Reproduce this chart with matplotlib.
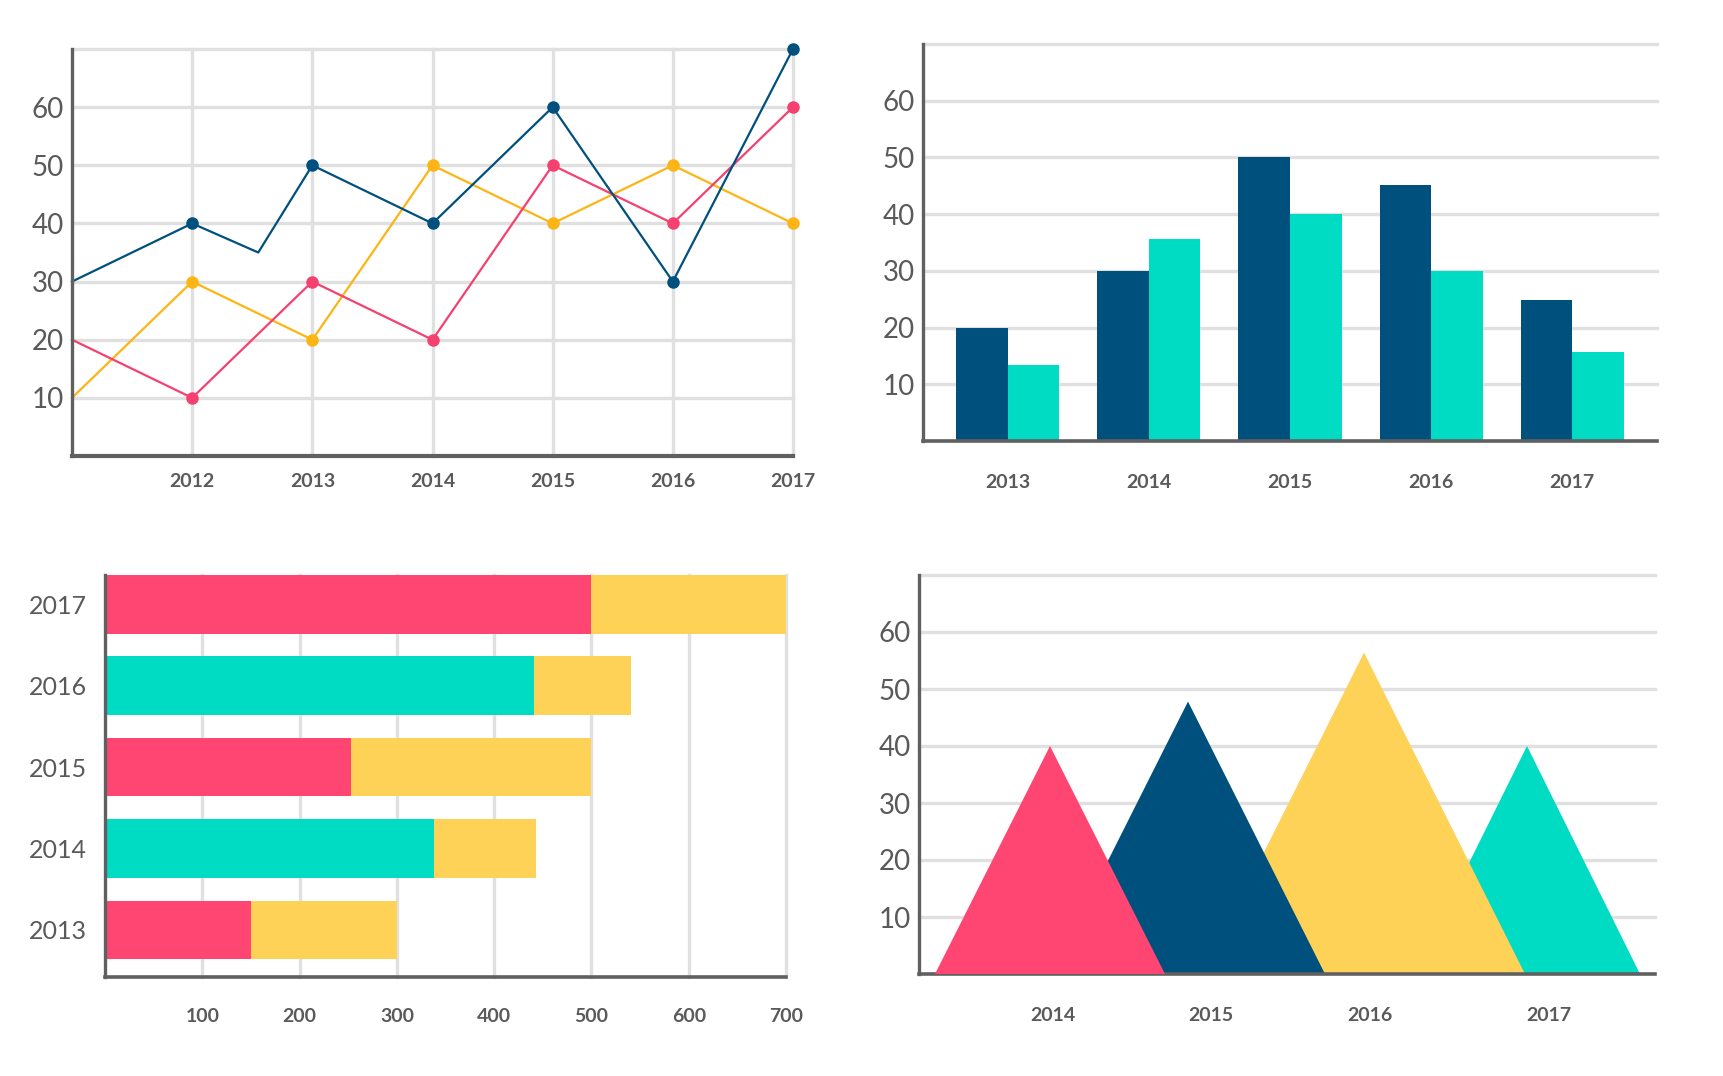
import numpy as np
import matplotlib
matplotlib.use('Agg')
from matplotlib import pyplot as plt

plt.rcParams['font.family'] = ['Lato', 'DejaVu Sans']

# colours
NAVY = '#00507e'
PINK = '#ff4571'
TEAL = '#00dbc3'
YELLOW = '#fed256'
LINE_PINK = '#f5416f'
LINE_YELLOW = '#fdb515'
GRID = '#e0e0e0'
AXIS = '#606060'
TEXT = '#5a5a5a'

# --- data: line chart (top left)
line_years = [2011, 2012, 2013, 2014, 2015, 2016, 2017]
navy_x = [2011, 2012, 2012.55, 2013, 2014, 2015, 2016, 2017]
navy_y = [30, 40, 35, 50, 40, 60, 30, 70]
navy_marked = [2012, 2013, 2014, 2015, 2016, 2017]
navy_marked_y = [40, 50, 40, 60, 30, 70]
yellow_line = [10, 30, 20, 50, 40, 50, 40]
pink_line = [20, 10, 30, 20, 50, 40, 60]

# --- data: grouped bars (top right)
bar_years = ['2013', '2014', '2015', '2016', '2017']
bar_navy = [20, 30, 50, 45.2, 24.8]
bar_teal = [13.4, 35.7, 40, 30, 15.7]

# --- data: stacked horizontal bars (bottom left)
hbar_years = ['2013', '2014', '2015', '2016', '2017']
hbar_first = [150, 338, 253, 441, 500]
hbar_total = [300, 443, 500, 541, 700]
hbar_first_colors = [PINK, TEAL, PINK, TEAL, PINK]

# --- data: triangles (bottom right)
tri_labels = ['2014', '2015', '2016', '2017']
tri_apex = [1.31, 2.69, 4.45, 6.08]
tri_height = [40, 47.8, 56.4, 40]
tri_halfwidth = [1.15, 1.37, 1.61, 1.13]
tri_label_pos = [1.34, 2.92, 4.51, 6.30]
tri_colors = [PINK, NAVY, YELLOW, TEAL]

W, H = 1724, 1076
fig = plt.figure(figsize=(W / 100, H / 100), dpi=100)


def add_axes(left, top, right, bottom):
    return fig.add_axes([left / W, 1 - bottom / H, (right - left) / W, (bottom - top) / H])


def style(ax, bottom_lw=2.6):
    for s in ['top', 'right']:
        ax.spines[s].set_visible(False)
    ax.spines['left'].set_color(AXIS)
    ax.spines['bottom'].set_color(AXIS)
    ax.spines['left'].set_linewidth(2.4)
    ax.spines['bottom'].set_linewidth(bottom_lw)
    ax.spines['left'].set_zorder(5)
    ax.spines['bottom'].set_zorder(5)
    ax.tick_params(length=0, colors=TEXT)
    ax.set_axisbelow(True)


def hgrid(ax, vals, x0, x1):
    for v in vals:
        ax.plot([x0, x1], [v, v], color=GRID, lw=2.4, zorder=0, clip_on=False)


yt = [10, 20, 30, 40, 50, 60]

# ---------- top left: lines
ax1 = add_axes(72, 49, 793, 456)
style(ax1, 3.0)
ax1.set_xlim(2011, 2017)
ax1.set_ylim(0, 70)
hgrid(ax1, yt + [70], 2011, 2017)
for yr in line_years[1:]:
    ax1.plot([yr, yr], [0, 70], color=GRID, lw=2.4, zorder=0, clip_on=False)
ax1.plot(line_years, yellow_line, color=LINE_YELLOW, lw=1.6, zorder=2, clip_on=False)
ax1.plot(line_years[1:], yellow_line[1:], 'o', color=LINE_YELLOW, ms=8, zorder=3, clip_on=False)
ax1.plot(line_years, pink_line, color=LINE_PINK, lw=1.6, zorder=2, clip_on=False)
ax1.plot(line_years[1:], pink_line[1:], 'o', color=LINE_PINK, ms=8, zorder=3, clip_on=False)
ax1.plot(navy_x, navy_y, color=NAVY, lw=1.6, zorder=2, clip_on=False)
ax1.plot(navy_marked, navy_marked_y, 'o', color=NAVY, ms=8, zorder=4, clip_on=False)
ax1.set_yticks(yt)
ax1.set_yticklabels([str(v) for v in yt], fontsize=20)
ax1.set_xticks(line_years[1:])
ax1.set_xticklabels([str(v) for v in line_years[1:]], fontsize=14, fontweight='bold')
ax1.tick_params(axis='y', pad=6)
ax1.tick_params(axis='x', pad=12)

# ---------- top right: grouped bars
ax2 = add_axes(923, 44, 1657, 441)
style(ax2)
gx = np.arange(len(bar_years))
bw = 0.365
ax2.set_xlim(-0.6, 4.6)
ax2.set_ylim(0, 70)
hgrid(ax2, yt + [70], -0.6, 4.6)
ax2.bar(gx - bw / 2, bar_navy, bw, color=NAVY, zorder=2)
ax2.bar(gx + bw / 2, bar_teal, bw, color=TEAL, zorder=2)
ax2.set_yticks(yt)
ax2.set_yticklabels([str(v) for v in yt], fontsize=20)
ax2.set_xticks(gx)
ax2.set_xticklabels(bar_years, fontsize=14, fontweight='bold')
ax2.tick_params(axis='y', pad=6)
ax2.tick_params(axis='x', pad=24)

# ---------- bottom left: stacked horizontal bars
ax3 = add_axes(105, 575, 786, 977)
style(ax3)
hy = np.arange(len(hbar_years))
bh = 0.72
ax3.set_xlim(0, 700)
ax3.set_ylim(-0.58, 4.36)
xt = [100, 200, 300, 400, 500, 600, 700]
for v in xt:
    ax3.plot([v, v], [-0.58, 4.36], color=GRID, lw=2.4, zorder=0, clip_on=False)
ax3.barh(hy, hbar_first, bh, color=hbar_first_colors, zorder=2)
ax3.barh(hy, np.array(hbar_total) - np.array(hbar_first), bh, left=hbar_first,
         color=YELLOW, zorder=2)
ax3.set_yticks(hy)
ax3.set_yticklabels(hbar_years, fontsize=18)
ax3.set_xticks(xt)
ax3.set_xticklabels([str(v) for v in xt], fontsize=14, fontweight='bold')
ax3.tick_params(axis='y', pad=13)
ax3.tick_params(axis='x', pad=22)

# ---------- bottom right: triangles
ax4 = add_axes(919, 575, 1655, 974)
style(ax4)
ax4.set_xlim(0, 7.36)
ax4.set_ylim(0, 70)
hgrid(ax4, yt + [70], 0, 7.36)
# draw back to front so the left peaks overlap the right ones
for i in reversed(range(len(tri_apex))):
    c, h, w = tri_apex[i], tri_height[i], tri_halfwidth[i]
    ax4.fill([c - w, c, c + w], [0, h, 0], color=tri_colors[i], lw=0, zorder=2 + (4 - i))
ax4.set_yticks(yt)
ax4.set_yticklabels([str(v) for v in yt], fontsize=20)
ax4.set_xticks(tri_label_pos)
ax4.set_xticklabels(tri_labels, fontsize=14, fontweight='bold')
ax4.tick_params(axis='y', pad=6)
ax4.tick_params(axis='x', pad=24)

plt.savefig('out.png', dpi=100, facecolor='white')
